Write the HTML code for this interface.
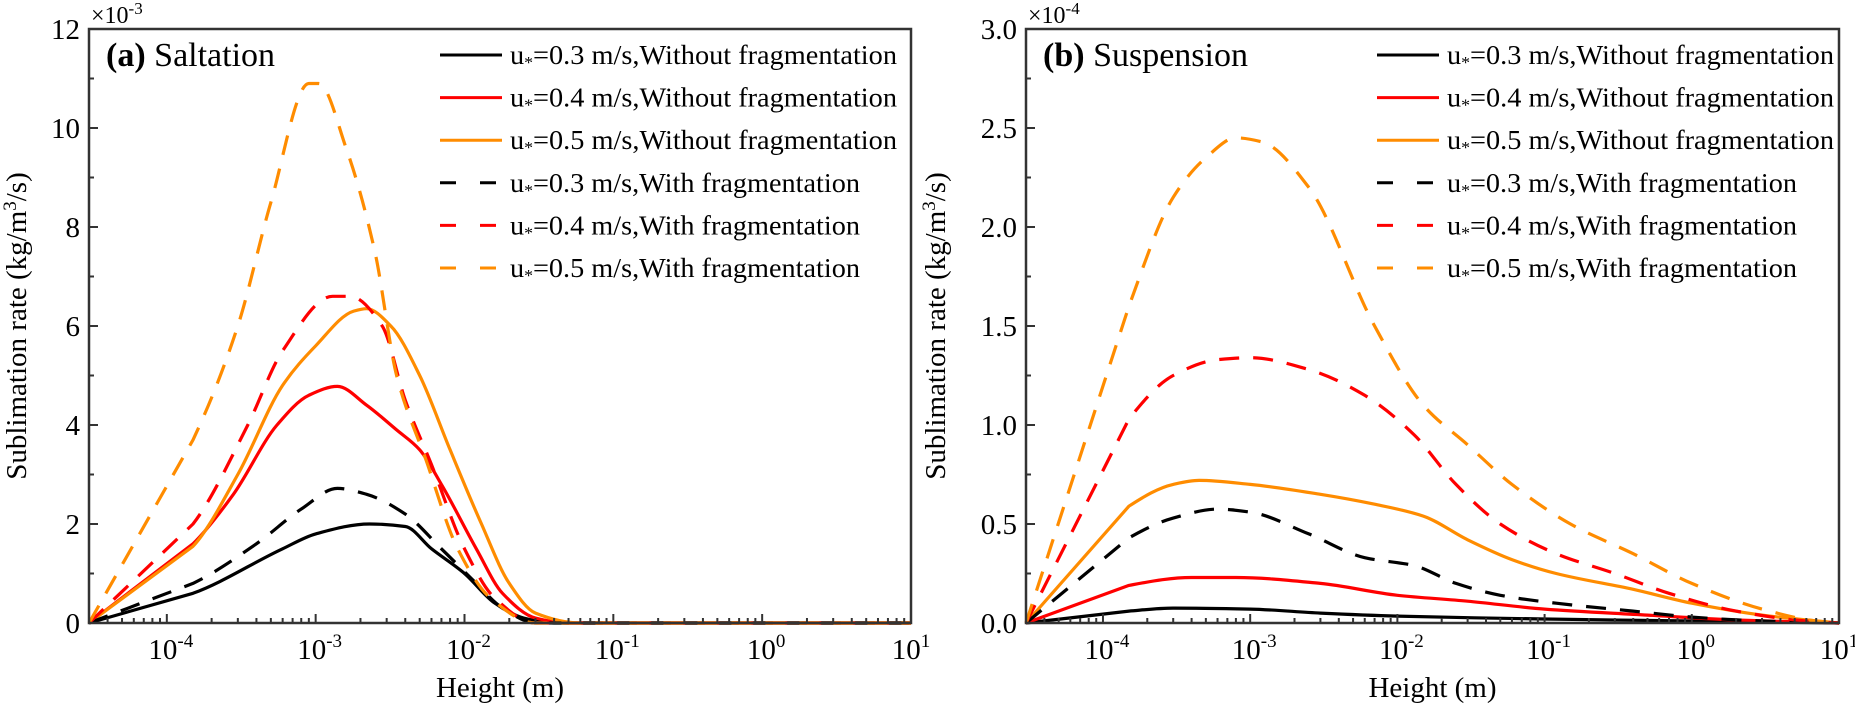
<!DOCTYPE html>
<html><head><meta charset="utf-8">
<style>
html,body{margin:0;padding:0;background:#fff;}
svg{display:block;font-family:"Liberation Serif",serif;}
</style></head>
<body>
<svg id="chart" width="1855" height="705" viewBox="0 0 1855 705" xmlns="http://www.w3.org/2000/svg"></svg>
<script>
// ---- data ----
const seriesNames = ["u*=0.3 m/s,Without fragmentation","u*=0.4 m/s,Without fragmentation","u*=0.5 m/s,Without fragmentation","u*=0.3 m/s,With fragmentation","u*=0.4 m/s,With fragmentation","u*=0.5 m/s,With fragmentation"];
// Panel a (x heights in m, y in 1e-3 kg/m3/s)
const aBlackSolidX = [3e-5,1.5e-4,6e-4,1e-3,2.3e-3,4e-3,6e-3,1e-2,1.6e-2,2.5e-2,4e-2,10];
const aBlackSolidY = [0,0.6,1.5,1.8,2.0,1.95,1.5,1.0,0.4,0.1,0,0];
const aRedSolidX = [3e-5,1.5e-4,2.8e-4,5.5e-4,9e-4,1.4e-3,2.2e-3,3.5e-3,5e-3,7e-3,1.2e-2,1.8e-2,3e-2,5e-2,10];
const aRedSolidY = [0,1.6,2.6,4.0,4.6,4.78,4.4,3.9,3.5,2.8,1.5,0.6,0.1,0,0];
const aOrangeSolidX = [3e-5,1.5e-4,3e-4,6e-4,1e-3,1.8e-3,2.2e-3,3.2e-3,5e-3,8e-3,1.3e-2,2e-2,3e-2,6e-2,10];
const aOrangeSolidY = [0,1.55,3.0,4.8,5.6,6.3,6.35,6.0,5.0,3.5,2.0,0.8,0.2,0,0];
const aBlackDashX = [3e-5,1.5e-4,4e-4,8e-4,1.4e-3,2.2e-3,4e-3,7e-3,1.2e-2,1.8e-2,3e-2,10];
const aBlackDashY = [0,0.8,1.6,2.3,2.72,2.6,2.2,1.5,0.8,0.3,0,0];
const aRedDashX = [3e-5,1.5e-4,3.5e-4,6e-4,1.3e-3,1.7e-3,2.8e-3,4e-3,6e-3,1e-2,1.6e-2,3e-2,10];
const aRedDashY = [0,2.0,4.0,5.5,6.6,6.6,6.0,4.5,3.2,1.5,0.5,0,0];
const aOrangeDashX = [3e-5,1.5e-4,3e-4,5e-4,9e-4,1.05e-3,1.6e-3,2.5e-3,3.5e-3,5.5e-3,9e-3,1.5e-2,3e-2,10];
const aOrangeDashY = [0,3.7,6.0,8.5,10.9,10.9,9.6,7.5,5.0,3.3,1.5,0.5,0,0];
// Panel b (y in 1e-4)
const bBlackSolidX = [3e-5,1.5e-4,3e-4,1e-3,3e-3,1e-2,1e-1,1,10];
const bBlackSolidY = [0,0.06,0.075,0.07,0.05,0.035,0.02,0.01,0];
const bRedSolidX = [3e-5,1.5e-4,4e-4,8e-4,3e-3,1e-2,3e-2,1e-1,0.5,2,10];
const bRedSolidY = [0,0.19,0.23,0.23,0.2,0.14,0.11,0.07,0.04,0.015,0];
const bOrangeSolidX = [3e-5,1.5e-4,3e-4,4.5e-4,1e-3,3e-3,7e-3,1.5e-2,3e-2,6e-2,0.12,0.4,1,3,10];
const bOrangeSolidY = [0,0.59,0.7,0.72,0.7,0.65,0.6,0.54,0.42,0.32,0.25,0.17,0.1,0.04,0];
const bBlackDashX = [3e-5,1.5e-4,3e-4,6e-4,1e-3,2.5e-3,6e-3,1.3e-2,2.5e-2,5e-2,0.12,0.4,1,3,10];
const bBlackDashY = [0,0.43,0.53,0.575,0.56,0.45,0.33,0.29,0.2,0.14,0.1,0.06,0.03,0.01,0];
const bRedDashX = [3e-5,1.5e-4,3e-4,6e-4,1e-3,2.5e-3,6e-3,1.3e-2,2.5e-2,5e-2,0.12,0.3,0.7,2,6,10];
const bRedDashY = [0,1.03,1.25,1.33,1.34,1.28,1.15,0.95,0.7,0.5,0.35,0.25,0.15,0.06,0.01,0];
const bOrangeDashX = [3e-5,1.5e-4,3e-4,5e-4,8e-4,1.2e-3,2.5e-3,7e-3,1.5e-2,3e-2,6e-2,0.15,0.4,1,3,7,10];
const bOrangeDashY = [0,1.6,2.15,2.35,2.45,2.43,2.2,1.5,1.1,0.9,0.7,0.5,0.35,0.2,0.07,0.01,0];
const aYTicks = [0,2,4,6,8,10,12];
const bYTicks = [0.0,0.5,1.0,1.5,2.0,2.5,3.0];
const xTickExps = [-4,-3,-2,-1,0,1];

const NS="http://www.w3.org/2000/svg";
const svg=document.getElementById('chart');
function mk(tag,attrs,parent){const e=document.createElementNS(NS,tag);for(const k in attrs)e.setAttribute(k,attrs[k]);(parent||svg).appendChild(e);return e;}
const colors=["#000","#ff0000","#ff8c00","#000","#ff0000","#ff8c00"];

// monotone cubic (Fritsch-Carlson) in pixel space; first segment straight
function smoothPath(pts){
  const n=pts.length,dx=[],sl=[];
  for(let i=0;i<n-1;i++){dx.push(pts[i+1][0]-pts[i][0]);sl.push((pts[i+1][1]-pts[i][1])/dx[i]);}
  const m=new Array(n);
  m[0]=sl[0];m[n-1]=sl[n-2];
  for(let i=1;i<n-1;i++){
    if(sl[i-1]*sl[i]<=0)m[i]=0;
    else{const w1=2*dx[i]+dx[i-1],w2=dx[i]+2*dx[i-1];m[i]=(w1+w2)/(w1/sl[i-1]+w2/sl[i]);}
  }
  let d='M'+pts[0][0].toFixed(1)+','+pts[0][1].toFixed(1);
  for(let i=0;i<n-1;i++){
    const p1=pts[i],p2=pts[i+1],h=dx[i]/3;
    if(i===0){d+='L'+p2[0].toFixed(1)+','+p2[1].toFixed(1);continue;}
    d+='C'+(p1[0]+h).toFixed(1)+','+(p1[1]+m[i]*h).toFixed(1)+' '+(p2[0]-h).toFixed(1)+','+(p2[1]-m[i+1]*h).toFixed(1)+' '+p2[0].toFixed(1)+','+p2[1].toFixed(1);
  }
  return d;
}

function panel(opt){
  const g=mk('g',{});
  
  
  const L=opt.x0,R=opt.x1,T=29,B=623;
  const lmin=Math.log10(3e-5),lmax=1;
  const sx=v=>L+(Math.log10(v)-lmin)/(lmax-lmin)*(R-L);
  const sy=v=>B-v/opt.ymax*(B-T);
  opt.series.forEach((s,i)=>{
    const pts=s[0].map((xv,j)=>[sx(xv),sy(s[1][j])]);
    const p=mk('path',{d:smoothPath(pts),fill:'none',stroke:colors[i],'stroke-width':3.2,'stroke-linejoin':'round','stroke-dasharray':i>=3?'20,14':'none'},g);
    
    
  });
  const fr=mk('rect',{x:L,y:T,width:R-L,height:B-T,fill:'none',stroke:'#333','stroke-width':2.5},g);
  
  
  for(let e=-5;e<=1;e++){
    for(let m=1;m<10;m++){
      const v=m*Math.pow(10,e);
      if(v<3e-5||v>10)continue;
      const x=sx(v);const len=m===1?9:5;
      mk('line',{x1:x,x2:x,y1:B,y2:B-len,stroke:'#333','stroke-width':2},g);
    }
  }
  xTickExps.forEach(e=>{
    const t=mk('text',{x:sx(Math.pow(10,e))+(e===1?0:4),y:659,'text-anchor':'middle','font-size':29},g);
    
    
    t.textContent='10';
    const ts=mk('tspan',{dy:-12,'font-size':19},t);ts.textContent=String(e);
  });
  opt.yticks.forEach((v,i)=>{
    const y=sy(v);
    mk('line',{x1:L,x2:L+9,y1:y,y2:y,stroke:'#333','stroke-width':2},g);
    if(i<opt.yticks.length-1){const ym=sy(v+(opt.yticks[1]-opt.yticks[0])/2);mk('line',{x1:L,x2:L+5,y1:ym,y2:ym,stroke:'#333','stroke-width':2},g);}
    const t=mk('text',{x:L-9,y:y+10,'text-anchor':'end','font-size':29},g);
    
    
    t.textContent=opt.fmt(v);
  });
  const mul=mk('text',{x:L+2,y:23,'font-size':24},g);
  
  
  mul.textContent='×10';
  const ms=mk('tspan',{dy:-9,'font-size':17},mul);ms.textContent=opt.exp;
  const xt=mk('text',{x:(L+R)/2,y:697,'text-anchor':'middle','font-size':29},g);
  
  
  xt.textContent='Height (m)';
  const yt=mk('text',{x:0,y:0,'text-anchor':'middle','font-size':29,transform:`translate(${opt.ytx},326) rotate(-90)`},g);
  
  
  yt.textContent='Sublimation rate (kg/m';
  const sup=mk('tspan',{dy:-10,'font-size':19},yt);sup.textContent='3';
  const rest=mk('tspan',{dy:10},yt);rest.textContent='/s)';
  const ti=mk('text',{x:L+17,y:66,'font-size':34},g);
  
  
  const b=mk('tspan',{'font-weight':'bold'},ti);b.textContent=opt.tag;
  const tt=mk('tspan',{},ti);tt.textContent=' '+opt.title;
  const lg=mk('g',{},g);
  
  
  const lx=L+351;
  seriesNames.forEach((n,i)=>{
    const y=55+i*42.6;
    const it=mk('g',{},lg);
    
    
    mk('line',{x1:lx,x2:lx+62,y1:y,y2:y,stroke:colors[i],'stroke-width':3,'stroke-dasharray':i>=3?'16,24':'none'},it);
    const t=mk('text',{x:lx+70,y:y+9,'font-size':27,textLength:i>=3?350:387,lengthAdjust:'spacingAndGlyphs'},it);
    const p1=mk('tspan',{},t);p1.textContent='u';
    const p2=mk('tspan',{'font-size':17,dy:4},t);p2.textContent='*';
    const p3=mk('tspan',{dy:-4},t);p3.textContent=n.slice(2);
  });
}
panel({name:'panel-a-saltation',x0:89,x1:911,ymax:12,yticks:aYTicks,fmt:v=>String(v),exp:'-3',ytx:26,tag:'(a)',title:'Saltation',
  series:[[aBlackSolidX,aBlackSolidY],[aRedSolidX,aRedSolidY],[aOrangeSolidX,aOrangeSolidY],[aBlackDashX,aBlackDashY],[aRedDashX,aRedDashY],[aOrangeDashX,aOrangeDashY]]});
panel({name:'panel-b-suspension',x0:1026,x1:1839,ymax:3,yticks:bYTicks,fmt:v=>v.toFixed(1),exp:'-4',ytx:945,tag:'(b)',title:'Suspension',
  series:[[bBlackSolidX,bBlackSolidY],[bRedSolidX,bRedSolidY],[bOrangeSolidX,bOrangeSolidY],[bBlackDashX,bBlackDashY],[bRedDashX,bRedDashY],[bOrangeDashX,bOrangeDashY]]});
</script>
</body></html>
